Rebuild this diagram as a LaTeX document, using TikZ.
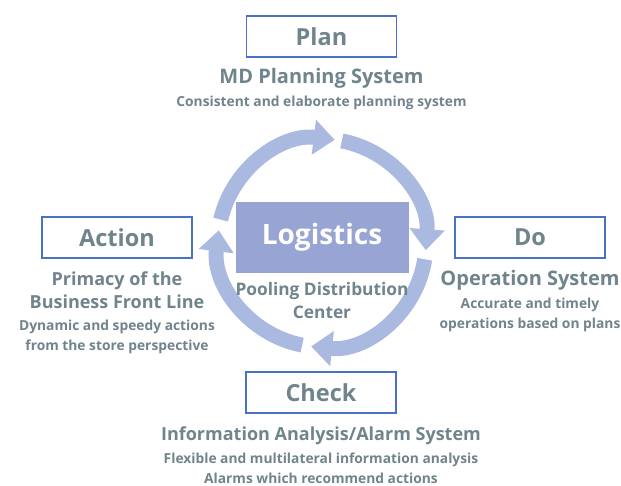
\documentclass[tikz,border=0pt]{standalone}
\usepackage{fontspec}
\setmainfont{Open Sans}
\usetikzlibrary{arrows.meta}
\definecolor{boxline}{RGB}{74,114,196}
\definecolor{txt}{RGB}{112,132,140}
\definecolor{ring}{RGB}{170,185,224}
\definecolor{core}{RGB}{152,165,212}
\begin{document}
\begin{tikzpicture}[x=1pt,y=-1pt,
  phase/.style={draw=boxline,line width=1.3pt,fill=white,minimum width=150pt,minimum height=41pt,
    inner sep=0pt,text=txt,font=\bfseries\fontsize{23.5}{25}\selectfont},
  head/.style={text=txt,font=\bfseries\fontsize{20}{23}\selectfont,align=center,inner sep=0pt},
  smallhead/.style={head,font=\bfseries\fontsize{18}{23}\selectfont},
  note/.style={text=txt,font=\bfseries\fontsize{13.8}{20}\selectfont,align=center,inner sep=0pt},
  cyc/.style={draw=ring,line width=15pt,-{Triangle[width=34pt,length=21pt]}}]
\useasboundingbox (0,0) rectangle (621,486);
\coordinate (c) at (322,243);
% cycle ring (y axis points down, so angles run clockwise on the page)
\draw[cyc] (c) ++(-167:104) arc[start angle=-167,end angle=-83,radius=104];
\draw[cyc] (c) ++(-79:104) arc[start angle=-79,end angle=4,radius=104];
\draw[cyc] (c) ++(9:104) arc[start angle=9,end angle=96,radius=104];
\draw[cyc] (c) ++(101:104) arc[start angle=101,end angle=187,radius=104];
% core
\node[fill=core,minimum width=173pt,minimum height=71pt,inner sep=0pt,text=white,
  font=\bfseries\fontsize{28}{30}\selectfont] (logi) at (322,237.5) {Logistics};
\node[head,font=\bfseries\fontsize{17.3}{23}\selectfont,anchor=north] (pool) at (322,282) {Pooling Distribution\\Center};
% phases
\node[phase] (plan) at (321.5,36.5) {Plan};
\node[head] (plant) at (321.5,78) {MD Planning System};
\node[note] (plann) at (321.5,103) {Consistent and elaborate planning system};

\node[phase] (act) at (117,237.5) {Action};
\node[smallhead,anchor=north] (actt) at (117,272) {Primacy of the\\Business Front Line};
\node[note,anchor=north] (actn) at (117,320) {Dynamic and speedy actions\\from the store perspective};

\node[phase] (do) at (530,237.5) {Do};
\node[head] (dot) at (530,280) {Operation System};
\node[note,anchor=north] (don) at (530,298) {Accurate and timely\\operations based on plans};

\node[phase] (chk) at (321,392.5) {Check};
\node[smallhead] (chkt) at (321,436) {Information Analysis/Alarm System};
\node[note,anchor=north] (chkn) at (321,453) {Flexible and multilateral information analysis\\Alarms which recommend actions};
\end{tikzpicture}
\end{document}
